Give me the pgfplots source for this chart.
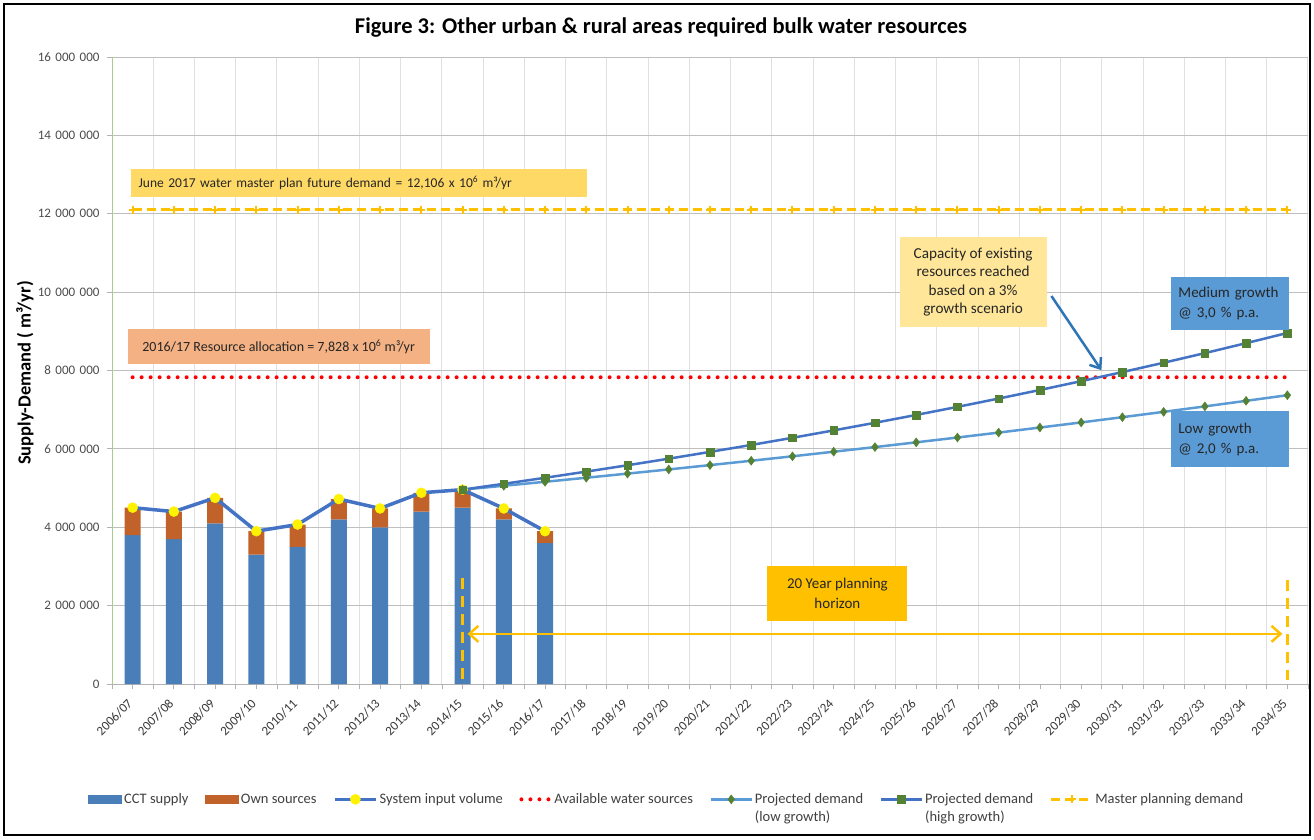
\documentclass[border=0pt]{standalone}
\usepackage{pgfplots}
\pgfplotsset{compat=1.18}
\usepackage{fontspec}
\setmainfont{Carlito}
\usetikzlibrary{arrows.meta}

\definecolor{cct}{HTML}{4A7EB8}
\definecolor{own}{HTML}{C0622A}
\definecolor{sysblue}{HTML}{4472C4}
\definecolor{lowblue}{HTML}{5B9BD5}
\definecolor{mkgreen}{HTML}{548235}
\definecolor{mastor}{HTML}{FFC000}
\definecolor{juneY}{HTML}{FFD966}
\definecolor{resO}{HTML}{F4B183}
\definecolor{capY}{HTML}{FFE699}
\definecolor{boxB}{HTML}{5B9BD5}
\definecolor{arrB}{HTML}{2E75B6}
\definecolor{ygreen}{HTML}{A9CD8E}

\newcommand{\gs}{\hspace{4.5pt}}

\pgfplotsset{
  barleg/.style={legend image code/.code={\fill[##1] (0pt,-0.2pt) rectangle (34pt,9pt);}},
  lineleg/.style={legend image code/.code={\draw[##1,mark repeat=2,mark phase=2] plot coordinates {(0pt,4.3pt) (20.5pt,4.3pt) (41pt,4.3pt)};}},
  dotleg/.style={legend image code/.code={\draw[##1] (2pt,4.3pt) -- (31pt,4.3pt);}},
}

\begin{document}
\begin{tikzpicture}
\useasboundingbox (0pt,0pt) rectangle (1314pt,-839pt);
\fill[white] (0pt,0pt) rectangle (1314pt,-839pt);
\draw[line width=2pt] (4pt,-4pt) rectangle (1310pt,-835pt);

\node[font=\fontsize{22.5}{26}\selectfont\bfseries] at (661pt,-28pt)
  {Figure 3: Other urban \& rural areas required bulk water resources};
\node[rotate=90, font=\fontsize{18.5}{21}\selectfont\bfseries] at (25pt,-373pt)
  {Supply-Demand ( m³/yr)};

\begin{axis}[
  at={(112pt,-684pt)}, anchor=south west,
  scale only axis, width=1196pt, height=627pt,
  xmin=-0.5, xmax=28.5, ymin=0, ymax=16000000,
  ybar stacked, bar width=16pt, reverse stacked plots=false,
  ytick={0,2000000,4000000,6000000,8000000,10000000,12000000,14000000,16000000},
  yticklabels={0,2\gs000\gs000,4\gs000\gs000,6\gs000\gs000,8\gs000\gs000,10\gs000\gs000,12\gs000\gs000,14\gs000\gs000,16\gs000\gs000},
  xtick={0,1,...,28},
  xticklabels={2006/07,2007/08,2008/09,2009/10,2010/11,2011/12,2012/13,2013/14,2014/15,2015/16,2016/17,2017/18,2018/19,2019/20,2020/21,2021/22,2022/23,2023/24,2024/25,2025/26,2026/27,2027/28,2028/29,2029/30,2030/31,2031/32,2032/33,2033/34,2034/35},
  minor xtick={-0.5,0.5,...,28.5},
  xminorgrids=true, ymajorgrids=true, xmajorgrids=false,
  major grid style={draw=black!25, line width=1pt},
  minor grid style={draw=black!12, line width=1pt},
  axis x line*=bottom, axis y line*=left,
  x axis line style={draw=black!30, line width=1pt, -},
  y axis line style={draw=ygreen, line width=1pt, -},
  tick align=outside, major tick length=5pt, minor tick length=5pt,
  tick style={draw=black!30, line width=0.8pt},
  scaled y ticks=false,
  ticklabel style={font=\fontsize{13}{15}\selectfont, text=black!70},
  yticklabel style={xshift=-4pt},
  xticklabel shift=10pt,
  xticklabel style={rotate=45, anchor=east, text=black!78},
  legend columns=7,
  legend style={at={(-0.0226,-0.164)}, anchor=north west, draw=none, fill=none,
    font=\fontsize{14.5}{18}\selectfont, text=black!75,
    cells={anchor=base west},
    /tikz/every even column/.append style={column sep=14.5pt}},
]
% stacked bars
\addplot[fill=cct, draw=none, barleg] coordinates {
  (0,3800000) (1,3700000) (2,4100000) (3,3300000) (4,3500000) (5,4200000)
  (6,4000000) (7,4400000) (8,4500000) (9,4200000) (10,3600000)};
\addplot[fill=own, draw=none, barleg] coordinates {
  (0,700000) (1,700000) (2,650000) (3,600000) (4,570000) (5,520000)
  (6,480000) (7,480000) (8,460000) (9,280000) (10,300000)};
% system input volume
\addplot[sharp plot, stack plots=false, draw=sysblue, line width=3.5pt,
  mark=*, mark size=5pt, mark options={solid, fill=yellow, draw=yellow, line width=0.5pt}, lineleg]
  coordinates {
  (0,4500000) (1,4400000) (2,4750000) (3,3900000) (4,4070000) (5,4720000)
  (6,4480000) (7,4880000) (8,4960000) (9,4480000) (10,3900000)};
% available water sources
\addplot[sharp plot, stack plots=false, draw=red, line width=4pt, line cap=round,
  dash pattern=on 0pt off 9pt, dotleg]
  coordinates {(0,7828000) (28,7828000)};
% projected demand low growth
\addplot[sharp plot, stack plots=false, draw=lowblue, line width=2.5pt,
  mark=diamond*, mark size=4.5pt, mark options={solid, fill=mkgreen, draw=mkgreen, line width=0.4pt}, lineleg]
  coordinates {
  (8,4960000) (9,5059000) (10,5160000) (11,5264000) (12,5369000) (13,5476000)
  (14,5586000) (15,5697000) (16,5811000) (17,5928000) (18,6046000) (19,6167000)
  (20,6290000) (21,6416000) (22,6545000) (23,6675000) (24,6809000) (25,6945000)
  (26,7084000) (27,7226000) (28,7370000)};
% projected demand high growth
\addplot[sharp plot, stack plots=false, draw=sysblue, line width=2.5pt,
  mark=square*, mark size=3.8pt, mark options={solid, fill=mkgreen, draw=mkgreen, line width=0.4pt}, lineleg]
  coordinates {
  (8,4960000) (9,5109000) (10,5262000) (11,5420000) (12,5582000) (13,5750000)
  (14,5923000) (15,6100000) (16,6283000) (17,6472000) (18,6666000) (19,6866000)
  (20,7072000) (21,7284000) (22,7503000) (23,7728000) (24,7960000) (25,8198000)
  (26,8444000) (27,8698000) (28,8958000)};
% master planning demand
\addplot[sharp plot, stack plots=false, draw=mastor, line width=2.5pt,
  dash pattern=on 9pt off 5pt, mark=+, mark size=4pt,
  mark options={solid, line width=2pt}, lineleg]
  coordinates {
  (0,12106000) (1,12106000) (2,12106000) (3,12106000) (4,12106000) (5,12106000)
  (6,12106000) (7,12106000) (8,12106000) (9,12106000) (10,12106000) (11,12106000)
  (12,12106000) (13,12106000) (14,12106000) (15,12106000) (16,12106000) (17,12106000)
  (18,12106000) (19,12106000) (20,12106000) (21,12106000) (22,12106000) (23,12106000)
  (24,12106000) (25,12106000) (26,12106000) (27,12106000) (28,12106000)};

\legend{CCT supply, Own sources, System input volume, Available water sources,
  {\begin{tabular}[t]{@{}l@{}}Projected demand\\(low growth)\end{tabular}},
  {\begin{tabular}[t]{@{}l@{}}Projected demand\\(high growth)\end{tabular}},
  Master planning demand}

% anchor points for the annotations, drawn after the axis
\coordinate (juneC) at (axis cs:5.48,12780000);
\coordinate (resC) at (axis cs:3.54,8610000);
\coordinate (capC) at (axis cs:20.38,10260000);
\coordinate (medC) at (axis cs:26.62,9710000);
\coordinate (lowC) at (axis cs:26.62,6250000);
\coordinate (horC) at (axis cs:17.09,2310000);
\coordinate (arrA) at (axis cs:22.28,9900000);
\coordinate (arrB) at (axis cs:23.49,8010000);
\coordinate (hzA) at (axis cs:8.12,1280000);
\coordinate (hzB) at (axis cs:27.88,1280000);
\coordinate (vaT) at (axis cs:8,2700000);
\coordinate (vaB) at (axis cs:8,100000);
\coordinate (vbT) at (axis cs:28,2650000);
\coordinate (vbB) at (axis cs:28,100000);
\end{axis}

\node[fill=juneY, text width=440pt, inner xsep=8pt, minimum height=28pt, align=left,
  font=\fontsize{13.5}{15}\selectfont, text=black!85]
  at (juneC) {June 2017 water master plan future demand = 12,106 x 10\textsuperscript{6} m³/yr};
\node[fill=resO, minimum width=302pt, minimum height=35pt,
  font=\fontsize{14}{16}\selectfont, text=black!85]
  at (resC) {2016/17 Resource allocation = 7,828 x 10\textsuperscript{6} m³/yr};
\node[fill=capY, minimum width=147pt, minimum height=90pt, align=center,
  font=\fontsize{15.2}{18.5}\selectfont, text=black!85]
  at (capC) {Capacity of existing\\resources reached\\based on a 3\%\\growth scenario};
\node[fill=boxB, text width=104pt, inner xsep=7pt, minimum height=53pt, align=left,
  font=\fontsize{15}{20}\selectfont, text=black!85]
  at (medC) {Medium growth\\@ 3,0 \% p.a.};
\node[fill=boxB, text width=104pt, inner xsep=7pt, minimum height=56pt, align=left,
  font=\fontsize{15}{20}\selectfont, text=black!85]
  at (lowC) {Low growth\\@ 2,0 \% p.a.};
\node[fill=mastor, minimum width=140pt, minimum height=55pt, align=center,
  font=\fontsize{15}{20}\selectfont, text=black!85]
  at (horC) {20 Year planning\\horizon};

\draw[-{Straight Barb[length=9pt,width=14pt]}, line width=2.5pt, arrB] (arrA) -- (arrB);
\draw[{Straight Barb[length=9pt,width=16pt]}-{Straight Barb[length=9pt,width=16pt]},
  line width=2.5pt, mastor] (hzA) -- (hzB);
\draw[line width=2.5pt, mastor, dash pattern=on 11pt off 7pt] (vaT) -- (vaB);
\draw[line width=2.5pt, mastor, dash pattern=on 11pt off 7pt] (vbT) -- (vbB);
\end{tikzpicture}
\end{document}
